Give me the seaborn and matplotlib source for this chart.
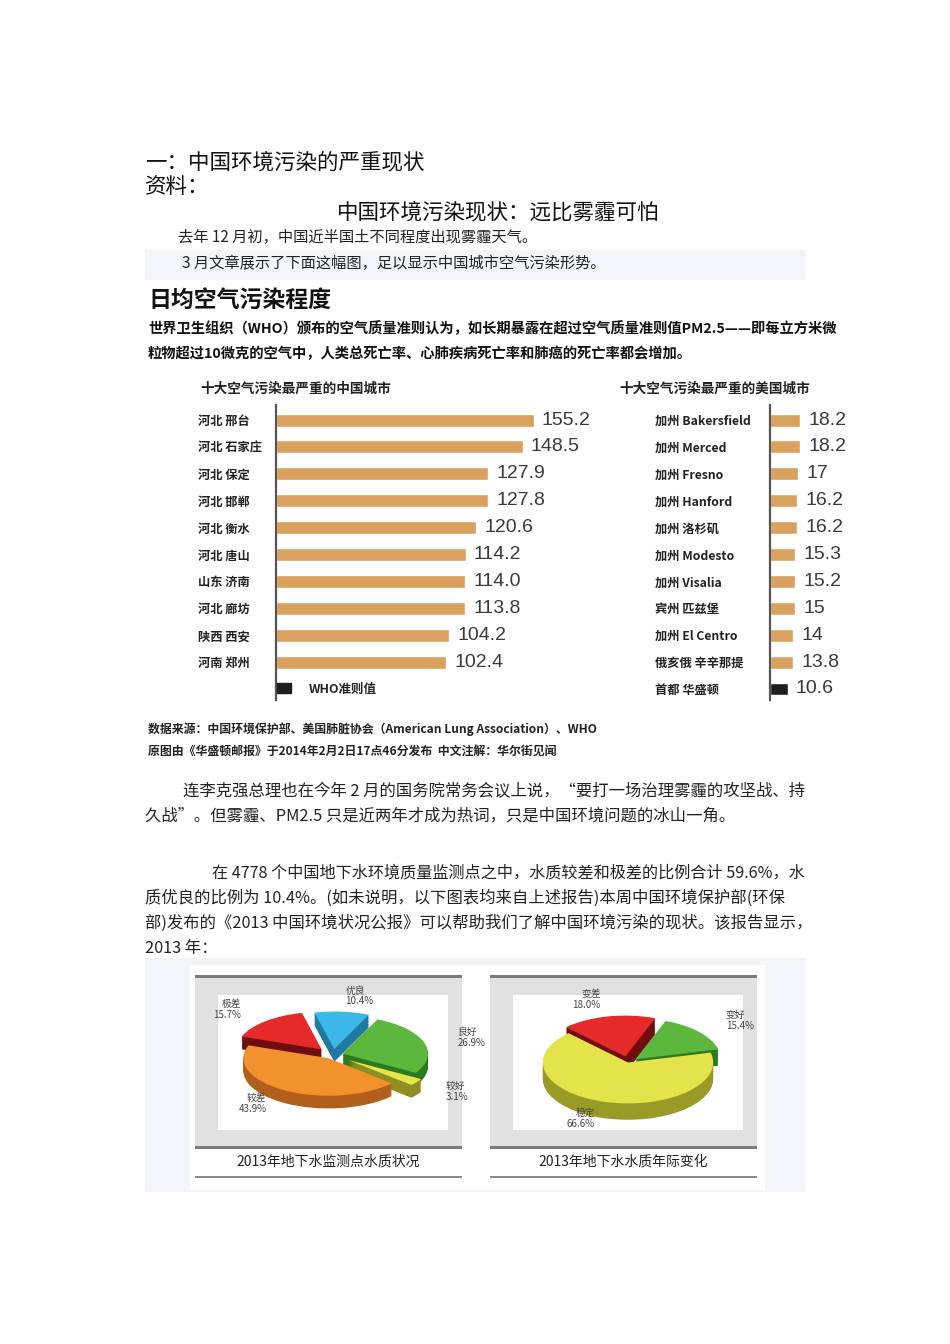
import matplotlib
matplotlib.use('Agg')
import matplotlib.pyplot as plt
from matplotlib.patches import Rectangle, Patch
import seaborn as sns
import pandas as pd
import numpy as np

# data
cn_cities = ['河北 邢台', '河北 石家庄', '河北 保定', '河北 邯郸', '河北 衡水',
             '河北 唐山', '山东 济南', '河北 廊坊', '陕西 西安', '河南 郑州']
cn_values = [155.2, 148.5, 127.9, 127.8, 120.6, 114.2, 114.0, 113.8, 104.2, 102.4]

us_cities = ['加州 Bakersfield', '加州 Merced', '加州 Fresno', '加州 Hanford', '加州 洛杉矶',
             '加州 Modesto', '加州 Visalia', '宾州 匹兹堡', '加州 El Centro', '俄亥俄 辛辛那提',
             '首都 华盛顿']
us_values = [18.2, 18.2, 17, 16.2, 16.2, 15.3, 15.2, 15, 14, 13.8, 10.6]

quality_names = ['较好', '良好', '优良', '极差', '较差']
quality_values = [3.1, 26.9, 10.4, 15.7, 43.9]

change_names = ['变好', '变差', '稳定']
change_values = [15.4, 18.0, 66.6]

W, H = 950, 1344
sns.set_theme(style='white')
plt.rcParams['font.family'] = ['Noto Sans CJK SC', 'DejaVu Sans']

fig = plt.figure(figsize=(W / 100, H / 100), dpi=100)
fig.patch.set_facecolor('white')


def px_axes(x0, y0, x1, y1):
    return fig.add_axes([x0 / W, 1 - y1 / H, (x1 - x0) / W, (y1 - y0) / H])


def ftext(x, y, s, **kw):
    kw.setdefault('va', 'center')
    fig.text(x / W, 1 - y / H, s, **kw)


def frect(x0, y0, x1, y1, color):
    # background blocks sit under every axes
    fig.patches.append(Rectangle((x0 / W, 1 - y1 / H), (x1 - x0) / W, (y1 - y0) / H,
                                 transform=fig.transFigure, color=color, zorder=-5, lw=0))


# document text
ftext(145, 162, '一：中国环境污染的严重现状', fontsize=15.5, color='#111')
ftext(145, 187, '资料：', fontsize=15.5, color='#111')
ftext(498, 212, '中国环境污染现状：远比雾霾可怕', fontsize=15.5, color='#111', ha='center')
ftext(178, 237, '去年 12 月初，中国近半国土不同程度出现雾霾天气。', fontsize=11, color='#222')
frect(145, 250, 806, 280, '#f3f5fb')
ftext(182, 263, '3 月文章展示了下面这幅图，足以显示中国城市空气污染形势。', fontsize=11, color='#222')

# chart header
ftext(148, 301, '日均空气污染程度', fontsize=16.5, weight='bold', color='#111')
ftext(148, 329, '世界卫生组织（WHO）颁布的空气质量准则认为，如长期暴露在超过空气质量准则值PM2.5——即每立方米微',
      fontsize=10.3, weight='bold', color='#111')
ftext(148, 354, '粒物超过10微克的空气中，人类总死亡率、心肺疾病死亡率和肺癌的死亡率都会增加。',
      fontsize=10.3, weight='bold', color='#111')
ftext(200, 389, '十大空气污染最严重的中国城市', fontsize=9.8, weight='bold', color='#222')
ftext(619, 389, '十大空气污染最严重的美国城市', fontsize=9.8, weight='bold', color='#222')

bar_color = '#d9a05e'
scale = 1.66  # pixels per unit, shared by both panels

# China bars
df_cn = pd.DataFrame({'city': cn_cities, 'value': cn_values})
ax1 = px_axes(276, 405, 606, 700)
sns.barplot(data=df_cn, x='value', y='city', color=bar_color, saturation=1,
            width=0.48, orient='h', ax=ax1)
ax1.bar_label(ax1.containers[0], labels=[f'{v:.1f}' for v in cn_values], padding=6,
              fontsize=14, family='Liberation Sans', color='#3a3a3a')
ax1.legend(handles=[Patch(color='#1e1e1e')], labels=['WHO准则值'], loc='center left',
           bbox_to_anchor=(0.003, 0.037), frameon=False, borderpad=0, borderaxespad=0,
           handlelength=1.15, handleheight=0.8, handletextpad=1.4,
           prop={'size': 9, 'weight': 'bold'})

# US bars
df_us = pd.DataFrame({'city': us_cities, 'value': us_values})
ax2 = px_axes(770, 405, 870, 700)
us_palette = [bar_color] * (len(us_cities) - 1) + ['#1e1e1e']
sns.barplot(data=df_us, x='value', y='city', hue='city', palette=us_palette, saturation=1,
            width=0.48, orient='h', legend=False, ax=ax2)
for cont, v in zip(ax2.containers, us_values):
    ax2.bar_label(cont, labels=[f'{v:g}'], padding=6, fontsize=14,
                  family='Liberation Sans', color='#3a3a3a')

for ax, xmax, pad in [(ax1, 330 / scale, 56), (ax2, 100 / scale, 83)]:
    ax.set_xlim(0, xmax)
    ax.set_ylim(10.41, -0.56)
    ax.set_xlabel('')
    ax.set_ylabel('')
    ax.set_xticks([])
    ax.set_facecolor('none')
    sns.despine(ax=ax, left=False, bottom=True)
    ax.spines['left'].set_color('#555')
    ax.spines['left'].set_linewidth(1.6)
    ax.tick_params(axis='y', length=0, pad=pad)
    for lbl in ax.get_yticklabels():
        lbl.set_ha('left')
        lbl.set_fontsize(8.8)
        lbl.set_fontweight('bold')
        lbl.set_color('#222')

ftext(148, 729, '数据来源：中国环境保护部、美国肺脏协会（American Lung Association）、WHO',
      fontsize=8.6, weight='bold', color='#222')
ftext(148, 752, '原图由《华盛顿邮报》于2014年2月2日17点46分发布  中文注解：华尔街见闻',
      fontsize=8.6, weight='bold', color='#222')

# paragraphs
para1 = ['连李克强总理也在今年 2 月的国务院常务会议上说，“要打一场治理雾霾的攻坚战、持',
         '久战”。但雾霾、PM2.5 只是近两年才成为热词，只是中国环境问题的冰山一角。']
para2 = ['在 4778 个中国地下水环境质量监测点之中，水质较差和极差的比例合计 59.6%，水',
         '质优良的比例为 10.4%。(如未说明，以下图表均来自上述报告)本周中国环境保护部(环保',
         '部)发布的《2013 中国环境状况公报》可以帮助我们了解中国环境污染的现状。该报告显示，',
         '2013 年：']
ftext(183, 791, para1[0], fontsize=11.75, color='#222')
ftext(145, 816, para1[1], fontsize=11.75, color='#222')
ftext(212, 873, para2[0], fontsize=11.6, color='#222')
for i, line in enumerate(para2[1:]):
    ftext(145, 898 + 25 * i, line, fontsize=11.75, color='#222')

# pie area background
frect(145, 958, 806, 1192, '#f3f5fb')
frect(190, 965, 765, 1190, 'white')


def pie_panel(x0, x1, names, values, colors, darks, start, explode, caption, box, ylims, depth):
    frect(x0, 977, x1, 1146, '#e1e1e1')
    frect(x0, 975, x1, 978, '#7a7a7a')
    frect(x0, 1146, x1, 1149, '#7a7a7a')
    frect(x0, 1176, x1, 1178, '#8a8a8a')
    frect(box[0], 995, box[1], 1130, 'white')
    ftext((x0 + x1) / 2, 1162, caption, fontsize=10, ha='center', color='#222')
    ax = px_axes(box[0], 995, box[1], 1130)
    for k in np.linspace(-depth, 0, 16)[:-1]:
        ax.pie(values, colors=darks, startangle=start, explode=explode, center=(0, k),
               wedgeprops=dict(linewidth=0))
    labels = [f'{n}\n{v}%' for n, v in zip(names, values)]
    ax.pie(values, colors=colors, startangle=start, explode=explode, labels=labels,
           labeldistance=1.42, wedgeprops=dict(linewidth=0),
           textprops=dict(fontsize=7, color='#444', linespacing=1.1))
    ax.set_aspect('auto')
    ax.set_xlim(-1.35, 1.35)
    ax.set_ylim(*ylims)
    ax.axis('off')


pie_panel(195, 462, quality_names, quality_values,
          ['#e6e64a', '#5cb83c', '#3cb8e8', '#e62a2a', '#f2922e'],
          ['#8e8e22', '#2d7a1e', '#1f7aa2', '#6e0e0e', '#b0601a'],
          -42, [0.22, 0.12, 0.16, 0.2, 0.1],
          '2013年地下水监测点水质状况', (218, 448), (-2.0, 1.6), 0.34)
pie_panel(490, 757, change_names, change_values,
          ['#5cb83c', '#e62a2a', '#e4e44a'],
          ['#2d7a1e', '#6e0e0e', '#9a9a26'],
          14, [0.12, 0.15, 0.0],
          '2013年地下水水质年际变化', (513, 743), (-1.65, 1.65), 0.4)

fig.savefig('out.png', dpi=100)
